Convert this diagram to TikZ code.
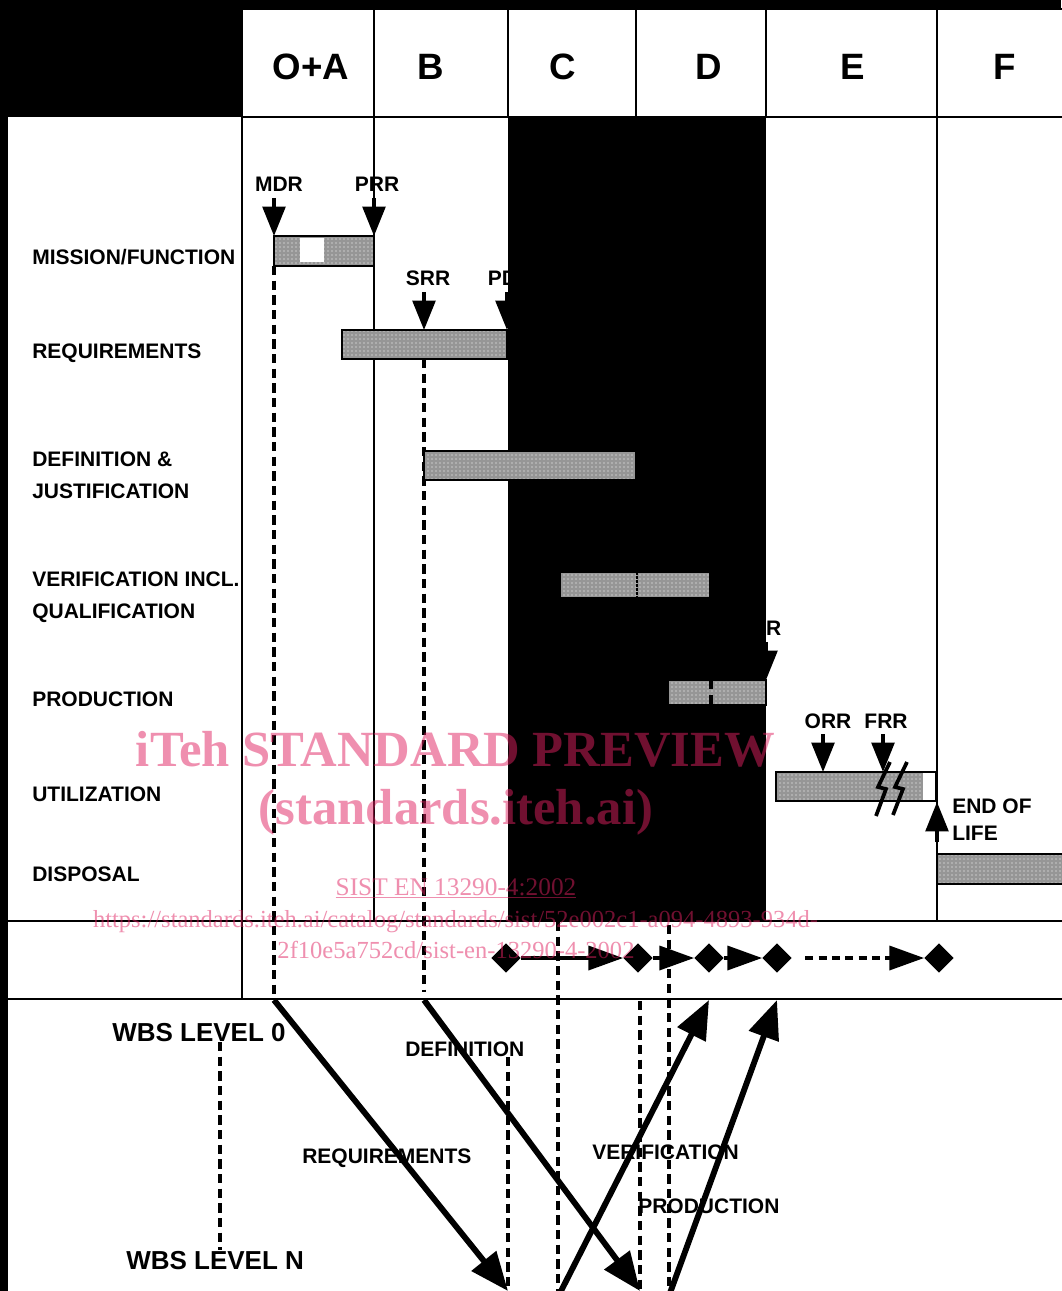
\documentclass[tikz,border=0pt]{standalone}
\usepackage{fontspec}
\setmainfont{Liberation Serif}
\setsansfont{Liberation Sans}
\usetikzlibrary{arrows.meta,shapes.geometric,patterns}
\definecolor{bargray}{RGB}{150,150,150}
\definecolor{wm}{RGB}{224,32,96}
\tikzset{
 lbl/.style={font=\sffamily\bfseries\fontsize{15.75}{18}\selectfont, inner sep=0pt},
 rowlbl/.style={lbl, anchor=base west},
 revlbl/.style={lbl, anchor=base},
 hdr/.style={font=\sffamily\bfseries\fontsize{27.5}{30}\selectfont, inner sep=0pt, anchor=base},
 wbs/.style={font=\sffamily\bfseries\fontsize{19.5}{22}\selectfont, inner sep=0pt, anchor=base west},
 gridline/.style={line width=1.2pt},
 hcell/.style={fill=white, draw=black, line width=1pt},
 bar/.style={draw=black, line width=1.4pt, preaction={fill=bargray}, pattern=dots, pattern color=white},
 barfill/.style={preaction={fill=bargray}, pattern=dots, pattern color=white},
 dashv/.style={line width=2.3pt, dash pattern=on 7pt off 4pt},
 revarrow/.style={line width=2.6pt, -{Triangle[length=22pt,width=17pt]}},
 msarrow/.style={line width=2.6pt, -{Triangle[length=26pt,width=18pt]}},
 bigarrow/.style={line width=4.4pt, -{Triangle[length=29pt,width=23pt]}},
 ms/.style={diamond, fill=black, inner sep=0pt, minimum width=22pt, minimum height=22pt},
 wmk/.style={text=wm, text opacity=0.5, inner sep=0pt, anchor=base},
 zig/.style={line width=2.8pt},
}
\begin{document}
\begin{tikzpicture}[x=0.75pt,y=-0.75pt]
\useasboundingbox (0,0) rectangle (1061,1291);
% background
\fill[black] (0,0) rectangle (1061,1291);
\fill[white] (8,117) rectangle (1063,1293);
% header cells
\draw[hcell] (242,9) rectangle (374,117);
\draw[hcell] (374,9) rectangle (508,117);
\draw[hcell] (508,9) rectangle (636,117);
\draw[hcell] (636,9) rectangle (766,117);
\draw[hcell] (766,9) rectangle (937,117);
\draw[hcell] (937,9) rectangle (1065,117);
\node[hdr] (hOA) at (311,80) {O+A};
\node[hdr] (hB) at (431,80) {B};
\node[hdr] (hC) at (563,80) {C};
\node[hdr] (hD) at (709,80) {D};
\node[hdr] (hE) at (853,80) {E};
\node[hdr] (hF) at (1005,80) {F};
% black band
\fill[black] (508,117) rectangle (766,921);
% grid lines
\draw[gridline] (242,117) -- (242,999);
\draw[gridline] (374,117) -- (374,921);
\draw[gridline] (937,117) -- (937,921);
\draw[gridline] (8,921) -- (1063,921);
\draw[gridline] (8,999) -- (1063,999);
% row labels
\node[rowlbl] (rMF) at (32,264) {MISSION/FUNCTION};
\node[rowlbl] (rREQ) at (32,358) {REQUIREMENTS};
\node[rowlbl] (rDEF1) at (32,466) {DEFINITION \&};
\node[rowlbl] (rDEF2) at (32,498) {JUSTIFICATION};
\node[rowlbl] (rVER1) at (32,586) {VERIFICATION INCL.};
\node[rowlbl] (rVER2) at (32,618) {QUALIFICATION};
\node[rowlbl] (rPRO) at (32,706) {PRODUCTION};
\node[rowlbl] (rUTI) at (32,801) {UTILIZATION};
\node[rowlbl] (rDIS) at (32,881) {DISPOSAL};
% dashed verticals (upper)
\draw[dashv] (274,266) -- (274,997);
\draw[dashv] (424,359) -- (424,992);
% bars
\draw[bar] (274,236) rectangle (374,266);
\fill[white] (300,238) rectangle (324,262);
\draw[bar] (342,330) rectangle (507,359);
\draw[bar] (424,451) rectangle (636,480);
\draw[bar] (560,572) rectangle (710,598);
\draw[line width=0.8pt, dash pattern=on 2pt off 1pt] (637,572) -- (637,598);
\draw[bar] (668,680) rectangle (766,705);
\draw[dashv] (711,680) -- (711,705);
\draw[line width=1.4pt, fill=white] (776,772) rectangle (936,801);
\path[barfill] (777,773) rectangle (923,800);
\draw[line width=1.4pt] (776,772) rectangle (936,801);
\draw[bar] (937,854) rectangle (1066,884);
% review arrows and labels
\node[revlbl] (lMDR) at (279,192) {MDR};
\node[revlbl] (lPRR) at (377,192) {PRR};
\node[revlbl] (lSRR) at (428,285) {SRR};
\node[revlbl] (lPDR) at (510,285) {PDR};
\node[revlbl] (lAR) at (766,635) {AR};
\node[revlbl] (lORR) at (828,728) {ORR};
\node[revlbl] (lFRR) at (886,728) {FRR};
\node[lbl, anchor=base west] (lEOL1) at (952,813) {END OF};
\node[lbl, anchor=base west] (lEOL2) at (952,840) {LIFE};
\coordinate (mdrS) at (274,198); \coordinate (mdrT) at (274,236);
\coordinate (prrS) at (374,198); \coordinate (prrT) at (374,236);
\coordinate (srrS) at (424,292); \coordinate (srrT) at (424,330);
\coordinate (pdrS) at (507,292); \coordinate (pdrT) at (507,330);
\coordinate (arS) at (766,642); \coordinate (arT) at (766,680);
\coordinate (orrS) at (823,734); \coordinate (orrT) at (823,772);
\coordinate (frrS) at (883,734); \coordinate (frrT) at (883,772);
\coordinate (eolS) at (937,842); \coordinate (eolT) at (937,802);
\draw[revarrow] (mdrS) -- (mdrT);
\draw[revarrow] (prrS) -- (prrT);
\draw[revarrow] (srrS) -- (srrT);
\draw[revarrow] (pdrS) -- (pdrT);
\draw[revarrow] (arS) -- (arT);
\draw[revarrow] (orrS) -- (orrT);
\draw[revarrow] (frrS) -- (frrT);
\draw[revarrow] (eolS) -- (eolT);
% break symbol
\draw[zig] (890,762) -- (878,787) -- (886,789) -- (876,816);
\draw[zig] (907,762) -- (895,787) -- (903,789) -- (893,815);
% milestone row
\draw[dashv] (558,922) -- (558,1291);
\draw[dashv] (669,925) -- (669,1291);
\node[ms] (m1) at (506,958) {};
\node[ms] (m2) at (638,958) {};
\node[ms] (m3) at (709,958) {};
\node[ms] (m4) at (777,958) {};
\node[ms] (m5) at (939,958) {};
\draw[msarrow] (m1) -- (m2);
\draw[msarrow] (m2) -- (m3);
\draw[msarrow] (m3) -- (m4);
\draw[msarrow, dash pattern=on 6pt off 4pt, shorten <=10pt] (m4) -- (m5);
% lower section
\draw[dashv] (220,1042) -- (220,1250);
\draw[dashv] (508,1057) -- (508,1291);
\draw[dashv] (640,1001) -- (640,1291);
\node[wbs] (w0) at (112,1041) {WBS LEVEL 0};
\node[wbs] (wN) at (126,1269) {WBS LEVEL N};
\node[lbl, anchor=base west] (bDEF) at (405,1056) {DEFINITION};
\node[lbl, anchor=base west] (bREQ) at (302,1163) {REQUIREMENTS};
\node[lbl, anchor=base west] (bVER) at (592,1159) {VERIFICATION};
\node[lbl, anchor=base west] (bPRO) at (638,1213) {PRODUCTION};
\coordinate (a1s) at (274,1000); \coordinate (a1e) at (508,1291);
\coordinate (a2s) at (424,1000); \coordinate (a2e) at (640,1291);
\coordinate (a3s) at (560,1293); \coordinate (a3e) at (709,1000);
\coordinate (a4s) at (670,1293); \coordinate (a4e) at (777,1000);
\draw[bigarrow] (a1s) -- (a1e);
\draw[bigarrow] (a2s) -- (a2e);
\draw[bigarrow] (a3s) -- (a3e);
\draw[bigarrow] (a4s) -- (a4e);
% watermark
\node[wmk, font=\bfseries\fontsize{38}{40}\selectfont] (wm1) at (455.5,766) {iTeh STANDARD PREVIEW};
\node[wmk, font=\bfseries\fontsize{38}{40}\selectfont] (wm2) at (456,824) {(standards.iteh.ai)};
\node[wmk, font=\fontsize{19}{20}\selectfont] (wm3) at (456,895) {\underline{SIST EN 13290-4:2002}};
\node[wmk, font=\fontsize{18.4}{20}\selectfont] (wm4) at (455.5,927) {https://standards.iteh.ai/catalog/standards/sist/52e002c1-a094-4893-934d-};
\node[wmk, font=\fontsize{18.4}{20}\selectfont] (wm5) at (456,958) {2f10e5a752cd/sist-en-13290-4-2002};
\end{tikzpicture}
\end{document}
